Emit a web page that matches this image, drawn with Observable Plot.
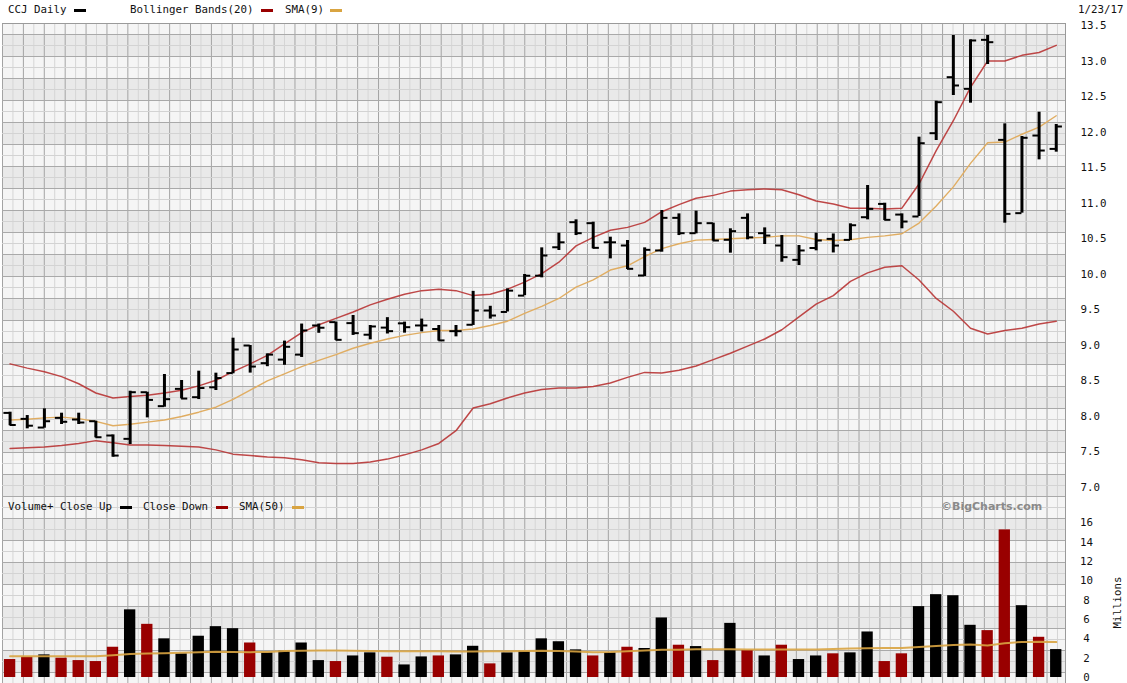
<!DOCTYPE html>
<html>
<head>
<meta charset="utf-8">
<script src="https://cdn.jsdelivr.net/npm/d3@7"></script>
<script src="https://cdn.jsdelivr.net/npm/@observablehq/plot@0.6"></script>
<style>
  body { margin: 0; background: #fff; }
  #wrap { position: relative; width: 1127px; height: 683px; overflow: hidden;
          font-family: "DejaVu Sans Mono", monospace; font-size: 10.8px; color: #111; }
  #grid { position: absolute; left: 2px; top: 23px; width: 1064px; height: 660px;
    background-image:
      linear-gradient(#9a9a9a, #9a9a9a),
      linear-gradient(#9a9a9a, #9a9a9a),
      linear-gradient(to bottom, #a9a9a9 0, #a9a9a9 1px, transparent 1px),
      linear-gradient(to bottom, #d3d3d3 0, #d3d3d3 1px, transparent 1px),
      linear-gradient(to right, #a3a3a3 0, #a3a3a3 1px, transparent 1px),
      linear-gradient(to right, #d5d5d5 0, #d5d5d5 1px, transparent 1px),
      linear-gradient(to bottom, #f5f5f5 0, #f5f5f5 22px, #e9e9e9 22px, #e9e9e9 44px);
    background-size: 100% 1px, 1px 100%, 100% 22px, 100% 22px, 20.9px 100%, 20.9px 100%, 100% 44px;
    background-position: 0 0, 100% 0, 0 11px, 0 0, 0 0, 10.45px 0, 0 -11px;
    background-repeat: no-repeat, no-repeat, repeat-y, repeat-y, repeat-x, repeat-x, repeat-y;
  }
  .t { position: absolute; white-space: pre; line-height: 12px; }
  .sw { position: absolute; height: 3px; width: 12px; }
  .panel { position: absolute; left: 0; }
</style>
</head>
<body>
<div id="wrap">
  <div id="grid"></div>
  <div class="t" style="left:8px;top:4px;">CCJ Daily</div>
  <div class="sw" style="left:74px;top:9px;background:#000;"></div>
  <div class="t" style="left:130px;top:4px;">Bollinger Bands(20)</div>
  <div class="sw" style="left:261px;top:9px;background:#990000;"></div>
  <div class="t" style="left:285px;top:4px;">SMA(9)</div>
  <div class="sw" style="left:330px;top:9px;background:#d9a441;"></div>
  <div class="t" style="left:1078px;top:4px;">1/23/17</div>

  <div class="t" style="left:8px;top:501px;">Volume+ Close Up</div>
  <div class="sw" style="left:120px;top:506px;background:#000;"></div>
  <div class="t" style="left:143px;top:501px;">Close Down</div>
  <div class="sw" style="left:216px;top:506px;background:#990000;"></div>
  <div class="t" style="left:239px;top:501px;">SMA(50)</div>
  <div class="sw" style="left:292px;top:506px;background:#d9a441;"></div>
  <div class="t" style="left:941px;top:501px;font-family:'DejaVu Sans',sans-serif;font-weight:bold;color:#8a8a8a;font-size:11px;">©BigCharts.com</div>
  <div class="t" style="left:1091px;top:596px;width:53px;transform:rotate(-90deg);transform-origin:26.5px 6px;">Millions</div>

  <div id="price" class="panel" style="top:23px;"></div>
  <div id="volume" class="panel" style="top:497px;"></div>
</div>
<script>
// ---- data (CCJ daily, ~62 sessions ending 1/23/17) ----
const open = [8.05,7.966,7.844,7.98,7.957,7.933,7.732,7.685,8.341,8.145,
  8.388,8.271,8.41,8.61,8.998,8.75,8.80,8.87,9.28,9.327,
  9.313,9.15,9.25,9.31,9.28,9.23,9.20,9.29,9.49,9.47,
  9.70,9.98,10.38,10.733,10.719,10.45,10.405,9.983,10.335,10.794,
  10.578,10.719,10.485,10.794,10.578,10.405,10.203,10.37,10.498,10.484,
  10.803,10.99,10.84,10.813,11.985,12.773,12.609,13.298,11.891,10.86,
  11.952,11.764];
const high = [8.06,8.013,8.107,8.046,8.046,7.933,7.741,8.355,8.341,8.59,
  8.506,8.637,8.609,9.101,8.998,8.88,9.06,9.30,9.30,9.327,
  9.42,9.28,9.39,9.327,9.37,9.28,9.28,9.76,9.55,9.795,
  9.997,10.372,10.578,10.766,10.733,10.522,10.475,10.372,10.897,10.85,
  10.888,10.719,10.64,10.85,10.653,10.545,10.405,10.578,10.568,10.71,
  11.249,11.0,10.85,11.929,12.435,13.359,13.298,13.359,12.116,11.938,
  12.28,12.107];
const low = [7.87,7.826,7.835,7.887,7.887,7.699,7.427,7.605,7.98,8.13,
  8.248,8.238,8.365,8.6,8.61,8.70,8.72,8.83,9.17,9.07,
  9.14,9.078,9.16,9.172,9.19,9.06,9.12,9.28,9.37,9.47,
  9.70,9.95,10.335,10.545,10.358,10.217,10.067,9.969,10.311,10.545,
  10.569,10.466,10.297,10.485,10.419,10.17,10.124,10.33,10.30,10.475,
  10.766,10.756,10.64,10.813,11.882,12.515,12.407,12.951,10.719,10.86,
  11.61,11.718];
const close = [7.88,7.87,7.933,7.925,7.915,7.708,7.45,8.341,8.233,8.243,
  8.252,8.40,8.54,8.942,8.702,8.87,8.98,9.21,9.248,9.078,
  9.172,9.266,9.2,9.256,9.28,9.07,9.20,9.49,9.42,9.77,
  9.98,10.264,10.45,10.578,10.372,10.45,10.077,10.344,10.794,10.578,
  10.719,10.475,10.607,10.52,10.545,10.241,10.335,10.475,10.404,10.69,
  10.92,10.766,10.742,11.844,12.421,12.656,13.289,13.265,10.85,11.92,
  11.741,12.079];
const bbUpper = [8.74,8.68,8.63,8.56,8.46,8.33,8.26,8.28,8.30,8.33,
  8.37,8.43,8.51,8.63,8.74,8.86,9.02,9.18,9.29,9.38,
  9.47,9.57,9.65,9.72,9.77,9.79,9.77,9.70,9.72,9.79,
  9.89,10.01,10.17,10.40,10.52,10.62,10.66,10.73,10.88,10.98,
  11.07,11.11,11.17,11.19,11.20,11.19,11.12,11.03,10.99,10.93,
  10.93,10.92,10.93,11.27,11.74,12.16,12.63,13.00,13.00,13.08,
  13.12,13.22];
const bbLower = [7.55,7.56,7.57,7.59,7.62,7.66,7.63,7.60,7.60,7.59,
  7.58,7.57,7.53,7.47,7.45,7.43,7.42,7.39,7.35,7.34,
  7.34,7.36,7.40,7.46,7.53,7.62,7.80,8.12,8.18,8.26,
  8.33,8.38,8.40,8.40,8.42,8.47,8.55,8.62,8.61,8.65,
  8.71,8.80,8.89,8.99,9.09,9.22,9.40,9.58,9.70,9.90,
  10.02,10.10,10.12,9.92,9.66,9.48,9.24,9.16,9.21,9.24,
  9.30,9.34];
const sma9 = [7.95,7.96,7.98,7.99,7.97,7.93,7.87,7.89,7.92,7.95,
  8.00,8.06,8.13,8.24,8.37,8.50,8.60,8.70,8.79,8.87,
  8.96,9.03,9.09,9.14,9.18,9.21,9.21,9.23,9.28,9.34,
  9.45,9.55,9.66,9.82,9.92,10.06,10.12,10.25,10.36,10.43,
  10.48,10.49,10.50,10.51,10.52,10.54,10.54,10.49,10.475,10.485,
  10.52,10.54,10.57,10.72,10.96,11.23,11.56,11.85,11.86,11.97,
  12.07,12.23];
const volume = [1.86,2.1,2.34,2.0,1.75,1.65,3.13,7.0,5.5,4.0,
  2.45,4.27,5.26,5.05,3.57,2.55,2.72,3.57,1.75,1.65,
  2.23,2.55,2.1,1.3,2.13,2.23,2.34,3.23,1.41,2.55,
  2.68,4.0,3.7,2.86,2.23,2.55,3.13,3.0,6.16,3.34,
  3.2,1.75,5.6,2.79,2.23,3.34,1.86,2.23,2.45,2.55,
  4.71,1.65,2.45,7.33,8.57,8.46,5.4,4.85,15.27,7.43,
  4.16,2.89];
const closeUp = [0,0,1,0,0,0,0,1,0,1, 1,1,1,1,0,1,1,1,1,0,
  1,1,0,1,1,0,1,1,0,1, 1,1,1,1,0,1,0,1,1,0,
  1,0,1,0,1,0,1,1,0,1, 1,0,0,1,1,1,1,0,0,1, 0,1];
const volSma50 = [2.2,2.2,2.2,2.2,2.2,2.2,2.3,2.42,2.48,2.5,
  2.55,2.62,2.66,2.64,2.62,2.65,2.75,2.78,2.79,2.79,
  2.77,2.74,2.72,2.72,2.71,2.71,2.70,2.70,2.71,2.72,
  2.75,2.78,2.73,2.68,2.62,2.65,2.72,2.80,2.86,2.88,
  2.92,2.93,2.92,2.90,2.89,2.89,2.89,2.90,2.95,3.0,
  3.03,3.05,3.06,3.15,3.27,3.35,3.42,3.32,3.55,3.68,
  3.7,3.66];
const priceTicks = [7.0,7.5,8.0,8.5,9.0,9.5,10.0,10.5,11.0,11.5,12.0,12.5,13.0,13.5];
const volumeTicks = [0,2,4,6,8,10,12,14,16];

const rows = open.map((o, i) => ({
  i, open: o, high: high[i], low: low[i], close: close[i],
  upper: bbUpper[i], lower: bbLower[i], sma9: sma9[i],
  vol: volume[i], up: closeUp[i] === 1, volSma: volSma50[i]
}));

const W = 1127;
const xDomain = [-0.443, 61.598];
const baseStyle = { fontFamily: "DejaVu Sans Mono, monospace", fontSize: "10.8px", color: "#111",
  background: "transparent", overflow: "visible" };

const pricePlot = Plot.plot({
  width: W, height: 474,
  marginLeft: 2, marginRight: 61, marginTop: 0, marginBottom: 0,
  x: { domain: xDomain, axis: null },
  y: { domain: [6.860, 13.528], axis: null },
  style: baseStyle,
  marks: [
    Plot.line(rows, { x: "i", y: "upper", stroke: "#b83434", strokeWidth: 1.5, strokeOpacity: 0.9 }),
    Plot.line(rows, { x: "i", y: "lower", stroke: "#b83434", strokeWidth: 1.5, strokeOpacity: 0.9 }),
    Plot.line(rows, { x: "i", y: "sma9", stroke: "#e0ad62", strokeWidth: 1.4 }),
    Plot.ruleX(rows, { x: "i", y1: "low", y2: "high", stroke: "#000", strokeWidth: 3 }),
    Plot.ruleY(rows, { x1: d => d.i - 0.36, x2: "i", y: "open", stroke: "#000", strokeWidth: 2 }),
    Plot.ruleY(rows, { x1: "i", x2: d => d.i + 0.36, y: "close", stroke: "#000", strokeWidth: 2 }),
    Plot.axisY({ anchor: "right", ticks: priceTicks, tickFormat: d3.format(".1f"),
      tickSize: 0, tickPadding: 14, textAnchor: "start" })
  ]
});
document.getElementById("price").appendChild(pricePlot);

const volumePlot = Plot.plot({
  width: W, height: 186,
  marginLeft: 2, marginRight: 61, marginTop: 0, marginBottom: 0,
  x: { domain: xDomain, axis: null },
  y: { domain: [-0.62, 18.62], axis: null },
  style: baseStyle,
  marks: [
    Plot.rect(rows, { x1: d => d.i - 0.33, x2: d => d.i + 0.33, y1: 0, y2: "vol",
      fill: d => d.up ? "#000000" : "#990000" }),
    Plot.line(rows, { x: "i", y: "volSma", stroke: "#d9a441", strokeWidth: 2, strokeOpacity: 0.9 }),
    Plot.axisY({ anchor: "right", ticks: volumeTicks, tickFormat: d3.format("d"),
      tickSize: 0, tickPadding: 20, textAnchor: "middle" })
  ]
});
document.getElementById("volume").appendChild(volumePlot);
</script>
</body>
</html>
